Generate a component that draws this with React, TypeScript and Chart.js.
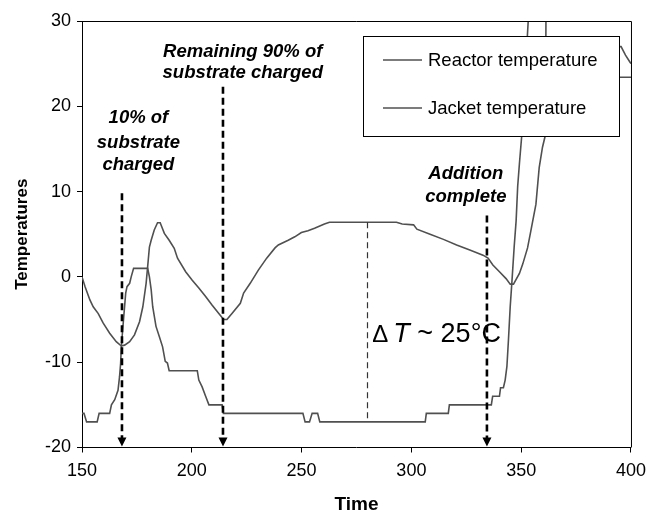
import React, { useEffect, useRef } from "react";
import { Chart, registerables } from "chart.js";

Chart.register(...registerables);

// ---- data ----
const reactorTime = [
  150, 151.4, 153.6, 155.1, 157.4, 159.6, 162.6, 165.6, 167.9, 169.4, 171.7, 173.9, 176.2, 177.7,
  179.2, 179.9, 180.7, 181.5, 182.9, 184.4, 185.6, 187.5, 189.7, 192.0, 193.5, 197.2, 200.2, 203.2,
  206.3, 209.2, 212.3, 214.5, 216.0, 218.3, 222.1, 223.6, 226.6, 230.3, 234.1, 237.9, 239.4, 243.9,
  246.9, 249.9, 252.9, 255.9, 260.4, 262.7, 293.2, 295.8, 301.0, 302.5, 308.5, 314.6, 320.6, 326.6,
  332.6, 334.9, 337.1, 340.1, 343.1, 345.0, 346.5, 349.2, 350.7, 352.9, 354.4, 356.7, 358.2, 359.7,
  361.0, 361.3, 375, 391, 393.1, 394.5, 395.5, 396.5, 397.5, 399.5, 400,
];
const reactorTemp = [
  0, -1.15, -2.7, -3.5, -4.3, -5.4, -6.6, -7.6, -8.1, -8.0, -7.6, -6.8, -5.25, -3.5,
  -0.75, 1.2, 3.5, 4.3, 5.5, 6.35, 6.35, 5.1, 4.3, 3.35, 2.2, 0.6, -0.4, -1.3,
  -2.3, -3.3, -4.3, -5.0, -5.0, -4.3, -3.1, -1.9, -0.75, 0.8, 2.2, 3.4, 3.75, 4.3,
  4.7, 5.2, 5.4, 5.7, 6.2, 6.4, 6.4, 6.2, 6.1, 5.6, 5.0, 4.4, 3.75, 3.15,
  2.55, 2.2, 1.4, 0.6, -0.2, -0.85, -0.85, 0.4, 1.5, 3.4, 5.4, 8.5, 12.8, 15.2,
  16.6, 31, null, 26, 26.3, 27, 27, 26.5, 26, 25.2, 25,
];
const jacketTime = [
  150, 150.9, 152.1, 156.9, 157.8, 162.6, 163.4, 164.9, 166.4, 167.1, 167.6, 167.9, 168.4, 169.0,
  169.9, 170.5, 171.7, 172.4, 173.5, 179.9, 180.7, 181.5, 182.2, 183.7, 185.2, 186.7, 187.9, 188.9,
  189.7, 202.5, 203.2, 204.7, 206.3, 207.8, 213.8, 214.4, 250.6, 251.6, 253.6, 254.8, 257.3, 258.3,
  306.3, 306.8, 316.8, 317.3, 336.4, 337.0, 340.1, 340.6, 341.9, 342.7, 343.5, 344.2, 345.0, 345.8,
  346.8, 347.7, 348.4, 349.2, 350.2, 353.2, 353.5, 375, 391, 400,
];
const jacketTemp = [
  -16, -16, -17, -17, -16, -16, -15, -14.4, -13.3, -11.7, -10.1, -8.2, -6.6, -4.7,
  -1.9, -1.15, -0.75, 0, 1, 1, 0, -1.5, -3.5, -5.8, -7.0, -8.2, -9.9, -10.1,
  -11, -11, -12.1, -12.9, -14, -15, -15, -16, -16, -17, -17, -16, -16, -17,
  -17, -16, -16, -15, -15, -14, -14, -13, -13, -12.1, -10.5, -7.4, -3.5, -0.5,
  3.5, 6.6, 10.6, 13.3, 16.4, 30, 31.5, null, 23.4, 23.4,
];
const seriesLabels = ["Reactor temperature", "Jacket temperature"];
const xTicks = [150, 200, 250, 300, 350, 400];
const yTicks = [-20, -10, 0, 10, 20, 30];
const xTitle = "Time";
const yTitle = "Temperatures";

// event arrows (time, top value)
const arrowTimes = [168.2, 214.2, 334.4];
const arrowTops = [9.8, 22.3, 7.2];
// delta-T marker
const deltaTime = 280;
const deltaRange = [6.4, -17];
const deltaLabel = ["\u0394", "T", " ~ 25\u00B0C"];
// annotation notes
const noteLines = [
  ["10% of", "substrate", "charged"],
  ["Remaining 90% of", "substrate charged"],
  ["Addition", "complete"],
];
const noteTimes = [175.7, 223.2, 324.8];
const noteValues = [[18.6, 15.7, 13.1], [26.4, 23.9], [12.1, 9.4]];

const FONT = "'Liberation Sans', Arial, Helvetica, sans-serif";
const LINE_COLOR = "#505050";

const overlay = {
  id: "overlay",
  afterDraw(chart: any) {
    const { ctx, chartArea: a, scales } = chart;
    const x = scales.x;
    const y = scales.y;
    ctx.save();
    // frame (top & right)
    ctx.strokeStyle = "#000";
    ctx.lineWidth = 1;
    ctx.beginPath();
    ctx.moveTo(a.left, a.top + 0.5);
    ctx.lineTo(a.right + 0.5, a.top + 0.5);
    ctx.lineTo(a.right + 0.5, a.bottom);
    ctx.stroke();

    // delta-T thin dashed line
    ctx.setLineDash([6, 4]);
    ctx.lineWidth = 1.2;
    ctx.strokeStyle = "#333";
    const dx = Math.round(x.getPixelForValue(deltaTime)) + 0.5;
    ctx.beginPath();
    ctx.moveTo(dx, y.getPixelForValue(deltaRange[0]));
    ctx.lineTo(dx, y.getPixelForValue(deltaRange[1]));
    ctx.stroke();

    // arrows
    ctx.strokeStyle = "#000";
    ctx.fillStyle = "#000";
    ctx.lineWidth = 2.6;
    arrowTimes.forEach((t, i) => {
      const px = x.getPixelForValue(t);
      const top = y.getPixelForValue(arrowTops[i]);
      const tip = a.bottom - 1;
      ctx.setLineDash([7, 4]);
      ctx.beginPath();
      ctx.moveTo(px, top);
      ctx.lineTo(px, tip - 8);
      ctx.stroke();
      ctx.setLineDash([]);
      ctx.beginPath();
      ctx.moveTo(px - 4.5, tip - 9);
      ctx.lineTo(px + 4.5, tip - 9);
      ctx.lineTo(px, tip);
      ctx.closePath();
      ctx.fill();
    });
    ctx.setLineDash([]);

    // notes
    ctx.fillStyle = "#000";
    ctx.font = `italic bold 18.5px ${FONT}`;
    ctx.textAlign = "center";
    ctx.textBaseline = "middle";
    noteLines.forEach((lines, i) => {
      const px = x.getPixelForValue(noteTimes[i]);
      lines.forEach((s, j) => {
        ctx.fillText(s, px, y.getPixelForValue(noteValues[i][j]));
      });
    });

    // delta label
    ctx.textAlign = "left";
    ctx.textBaseline = "alphabetic";
    let lx = x.getPixelForValue(282.2);
    const ly = y.getPixelForValue(-7.6);
    ctx.font = `24px ${FONT}`;
    ctx.fillText(deltaLabel[0], lx, ly);
    lx += ctx.measureText(deltaLabel[0]).width + 5;
    ctx.font = `italic 27px ${FONT}`;
    ctx.fillText(deltaLabel[1], lx, ly);
    lx += ctx.measureText(deltaLabel[1]).width;
    ctx.font = `27px ${FONT}`;
    ctx.fillText(deltaLabel[2], lx, ly);

    // legend
    const L = 363, T = 36, W = 256, H = 100;
    ctx.fillStyle = "#fff";
    ctx.fillRect(L, T, W, H);
    ctx.strokeStyle = "#000";
    ctx.lineWidth = 1;
    ctx.strokeRect(L + 0.5, T + 0.5, W, H);
    ctx.font = `18.5px ${FONT}`;
    ctx.textBaseline = "middle";
    chart.data.datasets.forEach((ds: any, i: number) => {
      const cy = T + 24 + i * 48;
      ctx.strokeStyle = ds.borderColor;
      ctx.lineWidth = 1.6;
      ctx.beginPath();
      ctx.moveTo(L + 20, cy);
      ctx.lineTo(L + 59, cy);
      ctx.stroke();
      ctx.fillStyle = "#000";
      ctx.fillText(ds.label, L + 65, cy + 1);
    });
    ctx.restore();
  },
};

export default function App() {
  const ref = useRef<HTMLCanvasElement>(null);
  useEffect(() => {
    Chart.defaults.font.family = FONT;
    const reactor = reactorTime.map((t, i) => ({ x: t, y: reactorTemp[i] }));
    const jacket = jacketTime.map((t, i) => ({ x: t, y: jacketTemp[i] }));
    const chart = new Chart(ref.current as HTMLCanvasElement, {
      type: "line",
      data: {
        datasets: [
          {
            label: seriesLabels[0],
            data: reactor as any,
            borderColor: LINE_COLOR,
            borderWidth: 1.6,
            pointRadius: 0,
            tension: 0,
            spanGaps: false,
          },
          {
            label: seriesLabels[1],
            data: jacket as any,
            borderColor: LINE_COLOR,
            borderWidth: 1.6,
            pointRadius: 0,
            tension: 0,
            spanGaps: false,
          },
        ],
      },
      options: {
        animation: false,
        responsive: false,
        devicePixelRatio: 1,
        events: [],
        layout: { padding: { top: 21, right: 18, left: 0, bottom: 0 } },
        plugins: {
          legend: { display: false },
          tooltip: { enabled: false },
          title: { display: false },
        },
        scales: {
          x: {
            type: "linear",
            min: 150,
            max: 400,
            afterBuildTicks: (s: any) => {
              s.ticks = xTicks.map((v) => ({ value: v }));
            },
            afterFit: (s: any) => {
              s.height = 66.5;
            },
            grid: {
              display: true,
              drawOnChartArea: false,
              drawTicks: true,
              tickLength: 5,
              color: "#000",
            },
            border: { display: true, color: "#000", width: 1 },
            ticks: {
              color: "#000",
              font: { size: 18, family: FONT },
              padding: 8,
              maxRotation: 0,
            },
            title: {
              display: true,
              text: xTitle,
              color: "#000",
              font: { size: 19, weight: "bold", family: FONT, lineHeight: 1 },
              padding: { top: 0, bottom: 0 },
            },
          },
          y: {
            type: "linear",
            min: -20,
            max: 30,
            afterBuildTicks: (s: any) => {
              s.ticks = yTicks.map((v) => ({ value: v }));
            },
            afterFit: (s: any) => {
              s.width = 82;
            },
            grid: {
              display: true,
              drawOnChartArea: false,
              drawTicks: true,
              tickLength: 5,
              color: "#000",
            },
            border: { display: true, color: "#000", width: 1 },
            ticks: {
              color: "#000",
              font: { size: 18, family: FONT },
              padding: 6,
            },
            title: {
              display: true,
              text: yTitle,
              color: "#000",
              font: { size: 17, weight: "bold", family: FONT },
              padding: { top: 12, bottom: 0 },
            },
          },
        },
      },
      plugins: [overlay],
    });
    return () => chart.destroy();
  }, []);
  return (
    <div style={{ position: "fixed", left: 0, top: 0, width: 654, height: 514, background: "#fff" }}>
      <canvas ref={ref} width={654} height={514} style={{ display: "block", width: 654, height: 514 }} />
    </div>
  );
}
